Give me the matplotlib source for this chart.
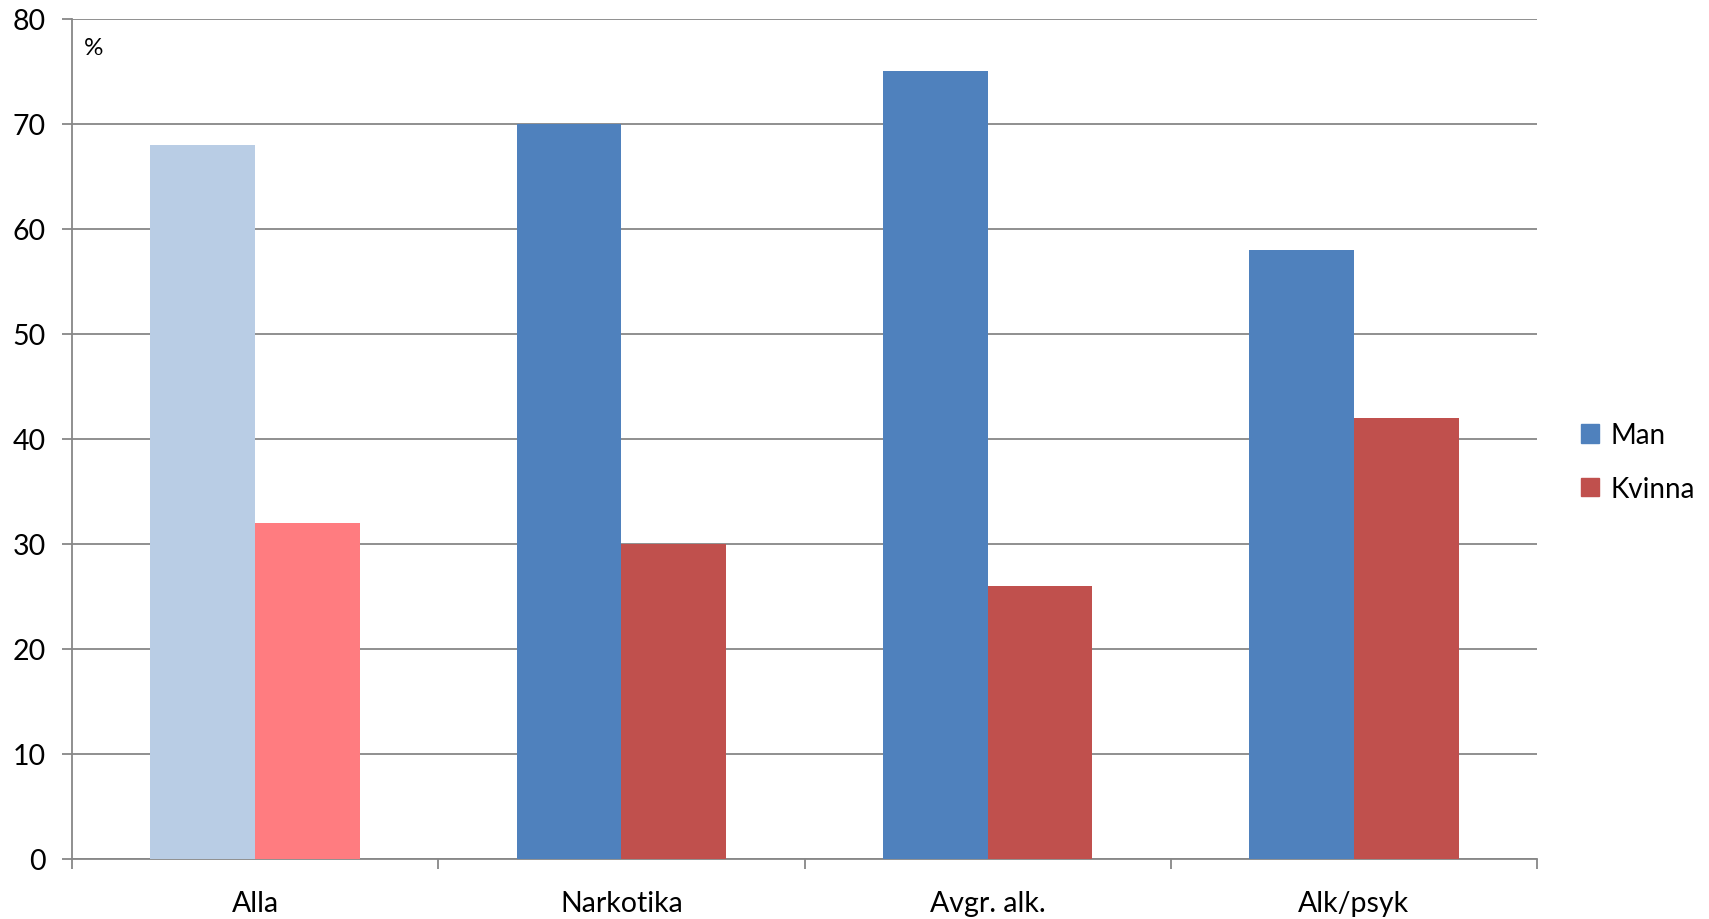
import numpy as np
import matplotlib
matplotlib.use('Agg')
import matplotlib.pyplot as plt
from matplotlib.patches import Patch

plt.rcParams['font.family'] = ['Lato', 'DejaVu Sans']

# Data
categories = ['Alla', 'Narkotika', 'Avgr. alk.', 'Alk/psyk']
man = [68, 70, 75, 58]
kvinna = [32, 30, 26, 42]
man_colors = ['#B9CDE5', '#4F81BD', '#4F81BD', '#4F81BD']
kvinna_colors = ['#FF7C80', '#C0504D', '#C0504D', '#C0504D']
yticks = [0, 10, 20, 30, 40, 50, 60, 70, 80]

fig = plt.figure(figsize=(17.09, 9.2), dpi=100)
ax = fig.add_axes([72 / 1709, 60 / 920, 1465 / 1709, 840.5 / 920])

x = np.arange(len(categories))
w = 0.2857
ax.bar(x - w / 2, man, width=w, color=man_colors, zorder=3)
ax.bar(x + w / 2, kvinna, width=w, color=kvinna_colors, zorder=3)

ax.set_xlim(-0.5, len(categories) - 0.5)
ax.set_ylim(0, 80)
ax.set_yticks(yticks)
ax.yaxis.grid(True, color='#878787', linewidth=1.3, zorder=0)
ax.set_axisbelow(True)

# boundaries get tick marks, category names sit in between
ax.set_xticks(np.arange(-0.5, len(categories), 1.0))
ax.set_xticklabels([])
ax.set_xticks(x, minor=True)
ax.set_xticklabels(categories, minor=True)
ax.tick_params(axis='x', which='major', direction='out', length=7, width=1.3, color='#878787')
ax.tick_params(axis='x', which='minor', length=0, pad=22, labelsize=20.5)
ax.tick_params(axis='y', direction='out', length=7, width=1.3, color='#878787', pad=12, labelsize=20.5)

for s in ['top', 'right']:
    ax.spines[s].set_visible(False)
for s in ['left', 'bottom']:
    ax.spines[s].set_color('#878787')
    ax.spines[s].set_linewidth(1.3)

ax.text(0.008, 0.965, '%', transform=ax.transAxes, fontsize=17.5, va='center', ha='left')

handles = [Patch(color='#4F81BD', label='Man'), Patch(color='#C0504D', label='Kvinna')]
fig.legend(handles=handles, loc='center left', bbox_to_anchor=(1581 / 1709, 1 - 463 / 920),
           frameon=False, fontsize=20, handlelength=0.65, handleheight=0.65,
           handletextpad=0.4, labelspacing=1.0, borderaxespad=0, borderpad=0)

fig.savefig('out.png', dpi=100)
